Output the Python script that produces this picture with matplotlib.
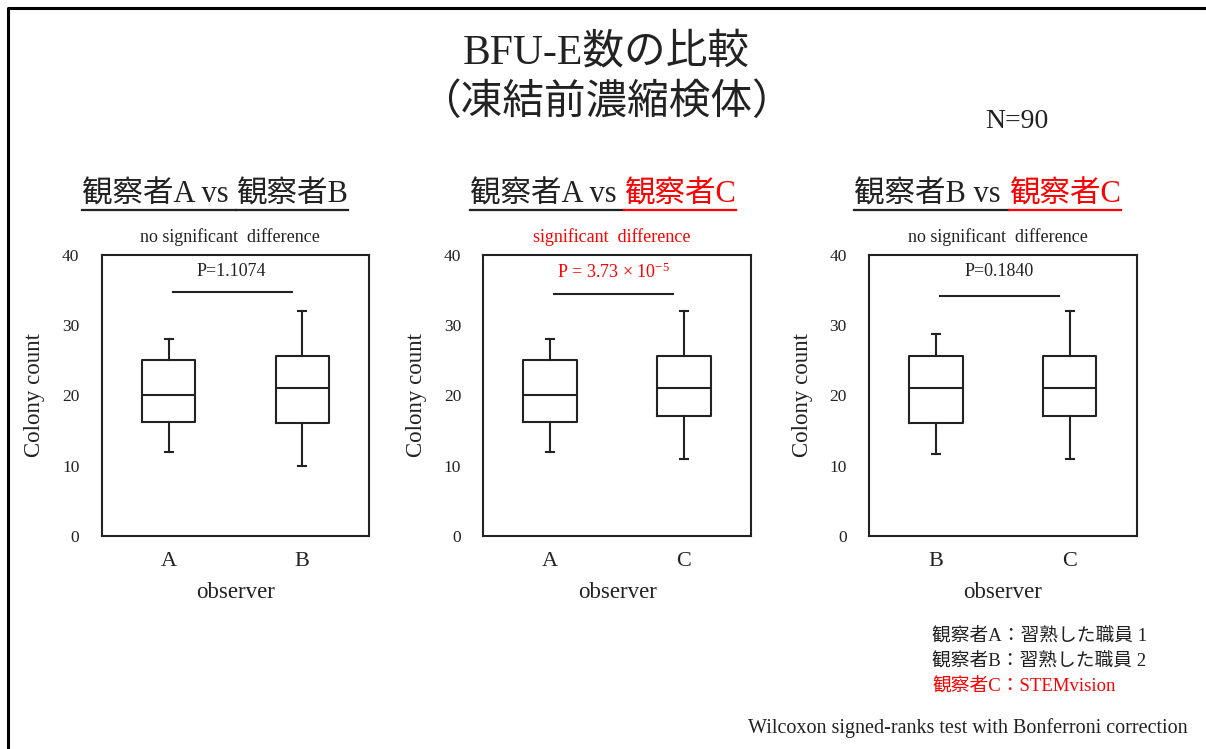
import matplotlib
matplotlib.use("Agg")
import matplotlib.pyplot as plt
from matplotlib.lines import Line2D

plt.rcParams['font.family'] = ['Liberation Serif', 'Noto Sans CJK JP']
plt.rcParams['mathtext.fontset'] = 'custom'
plt.rcParams['mathtext.rm'] = 'Liberation Serif'
plt.rcParams['mathtext.it'] = 'Liberation Serif:italic'

# box statistics: whislo, q1, med, q3, whishi
pairs = [('A', 'B'), ('A', 'C'), ('B', 'C')]
box_stats = [
    [[11.9, 16.2, 20.0, 25.0, 28.0], [10.0, 16.0, 21.0, 25.6, 32.0]],   # A vs B
    [[11.9, 16.2, 20.0, 25.0, 28.0], [10.9, 17.0, 21.0, 25.6, 32.0]],   # A vs C
    [[11.6, 16.0, 21.0, 25.6, 28.7], [10.9, 17.0, 21.0, 25.6, 32.0]],   # B vs C
]
p_texts = ['P=1.1074', r'P = 3.73 × 10$^{-5}$', 'P=0.1840']
significant = [False, True, False]
bar_y = [34.7, 34.4, 34.1]
legend_lines = ['観察者A：習熟した職員 1', '観察者B：習熟した職員 2', '観察者C：STEMvision']

RED = '#ff0000'
INK = '#222222'

fig = plt.figure(figsize=(12.06, 7.49), dpi=100)

axes_pos = [0.0843, 0.4008, 0.7206]
for i, (a, b) in enumerate(pairs):
    ax = fig.add_axes([axes_pos[i], 0.2848, 0.2218, 0.3747])
    bx = []
    for s, lab in zip(box_stats[i], (a, b)):
        bx.append({'whislo': s[0], 'q1': s[1], 'med': s[2], 'q3': s[3],
                   'whishi': s[4], 'label': lab, 'fliers': []})
    ax.bxp(bx, positions=[1, 2], widths=0.4, showfliers=False,
           capwidths=0.06,
           boxprops=dict(color=INK, lw=1.5),
           whiskerprops=dict(color=INK, lw=1.5),
           capprops=dict(color=INK, lw=1.5),
           medianprops=dict(color=INK, lw=1.5))
    ax.set_xlim(0.5, 2.5)
    ax.set_ylim(0, 40)
    ax.set_yticks([0, 10, 20, 30, 40])
    ax.tick_params(axis='y', length=0, pad=16, labelsize=12.5, labelcolor=INK)
    ax.tick_params(axis='x', length=0, pad=12, labelsize=16, labelcolor=INK)
    for sp in ax.spines.values():
        sp.set_linewidth(1.5)
        sp.set_color(INK)
    ax.set_xlabel('observer', fontsize=16.5, labelpad=8, color=INK)
    ax.set_ylabel('Colony count', fontsize=16.5, labelpad=12, color=INK)

    col = RED if significant[i] else INK
    ax.plot([1.03, 1.92], [bar_y[i]] * 2, color=INK, lw=1.5)
    ax.text(1.47, 37.6, p_texts[i], ha='center', va='center', fontsize=13, color=col)
    note = 'significant  difference' if significant[i] else 'no significant  difference'
    ax.text(0.48, 1.065, note, transform=ax.transAxes, ha='center', va='center',
            fontsize=13, color=col)

# main titles
fig.text(0.5025, 0.929, 'BFU-E数の比較', ha='center', va='center', fontsize=30, color=INK)
fig.text(0.5025, 0.862, '（凍結前濃縮検体）', ha='center', va='center', fontsize=30, color=INK)
fig.text(0.843, 0.838, 'N=90', ha='center', va='center', fontsize=20, color=INK)

# panel headings, underlined, with red part for observer C
headings = [
    [('観察者A vs', INK), ('観察者B', INK)],
    [('観察者A vs', INK), ('観察者C', RED)],
    [('観察者B vs', INK), ('観察者C', RED)],
]
head_x = [0.1783, 0.5, 0.8188]
renderer = fig.canvas.get_renderer()
gap = 8 / 1206
for pieces, xc in zip(headings, head_x):
    texts = [fig.text(0, 0.739, s, color=c, fontsize=22, ha='left', va='center')
             for s, c in pieces]
    widths = [t.get_window_extent(renderer).width / fig.bbox.width for t in texts]
    total = sum(widths) + gap * (len(texts) - 1)
    x = xc - total / 2
    for k, (t, w) in enumerate(zip(texts, widths)):
        t.set_x(x)
        end = x + w + (gap if k < len(texts) - 1 else 0)
        fig.add_artist(Line2D([x, end], [0.7196, 0.7196], color=pieces[k][1], lw=1.6,
                              transform=fig.transFigure))
        x = end

# legend of observers
for j, line in enumerate(legend_lines):
    fig.text(0.7728, 0.151 - j * 0.033, line, ha='left', va='center', fontsize=13.5,
             color=RED if j == 2 else INK)

fig.text(0.985, 0.028, 'Wilcoxon signed-ranks test with Bonferroni correction',
         ha='right', va='center', fontsize=14.5, color=INK)

# slide border (left and top)
fig.add_artist(Line2D([0.0066, 0.0066, 1.0], [0.0, 0.9893, 0.9893], color='black', lw=2.2,
                      transform=fig.transFigure))

fig.savefig('out.png', dpi=100)
